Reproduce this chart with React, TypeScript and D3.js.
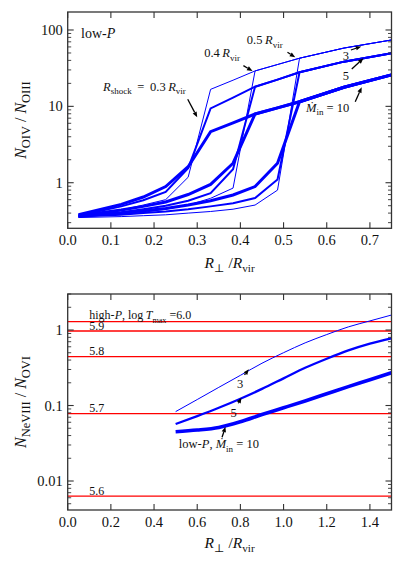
import React from 'react';
import * as d3 from 'd3';

const W = 399;
const H = 574;
const FONT = '"Liberation Serif", "DejaVu Serif", "Times New Roman", serif';

// ---------- Top panel data (N_OIV / N_OIII vs R_perp / R_vir) ----------
const mdotValues = [3, 5, 10];
const shockRadii = [0.3, 0.4, 0.5];
// shared post-shock branch, one per Mdot
const upperX = [0.331, 0.383, 0.434, 0.486, 0.537, 0.64, 0.75];
const upperMdot3 = [16.7, 22.0, 29.1, 35.3, 42.7, 58, 74];
const upperMdot5 = [9.4, 13.0, 18.1, 22.4, 28, 38.5, 49.7];
const upperMdot10 = [4.66, 6.08, 7.94, 9.55, 11.5, 17.8, 25.8];
// pre-shock branch sampled on lowerX
const lowerX = [0.025, 0.124, 0.175, 0.227, 0.279, 0.331, 0.383, 0.434, 0.486];
const lowShock03Mdot3 = [0.36, 0.44, 0.51, 0.6, 1.18];
const lowShock03Mdot5 = [0.37, 0.49, 0.59, 0.76, 1.55];
const lowShock03Mdot10 = [0.38, 0.52, 0.65, 0.89, 1.62];
const lowShock04Mdot3 = [0.355, 0.39, 0.41, 0.45, 0.51, 0.625, 0.85];
const lowShock04Mdot5 = [0.365, 0.41, 0.45, 0.5, 0.58, 0.73, 1.5];
const lowShock04Mdot10 = [0.37, 0.44, 0.49, 0.56, 0.7, 0.95, 1.8];
const lowShock05Mdot3 = [0.35, 0.36, 0.37, 0.38, 0.4, 0.42, 0.45, 0.51, 0.8];
const lowShock05Mdot5 = [0.36, 0.38, 0.4, 0.42, 0.45, 0.49, 0.54, 0.63, 1.1];
const lowShock05Mdot10 = [0.37, 0.4, 0.43, 0.46, 0.51, 0.58, 0.69, 0.89, 1.8];
const topXTicks = [0.0, 0.1, 0.2, 0.3, 0.4, 0.5, 0.6, 0.7];
const topYTicks = [1, 10, 100];
const topYTickLabels = ['1', '10', '100'];

// ---------- Bottom panel data (N_NeVIII / N_OVI vs R_perp / R_vir) ----------
const xBottom = [0.5, 0.6, 0.7, 0.8, 0.9, 1.0, 1.1, 1.2, 1.3, 1.4, 1.5];
const lowPMdot3 = [0.083, 0.12, 0.174, 0.251, 0.363, 0.501, 0.676, 0.871, 1.1, 1.32, 1.58];
const lowPMdot5 = [0.0569, 0.0724, 0.0933, 0.123, 0.166, 0.229, 0.316, 0.417, 0.537, 0.661, 0.776];
const lowPMdot10 = [0.045, 0.0473, 0.0513, 0.061, 0.0759, 0.0933, 0.115, 0.143, 0.178, 0.219, 0.272];
const highPLogT = ['6.0', '5.9', '5.8', '5.7', '5.6'];
const highPRatio = [1.29, 0.97, 0.443, 0.078, 0.0063];
const botXTicks = [0.0, 0.2, 0.4, 0.6, 0.8, 1.0, 1.2, 1.4];
const botYTicks = [0.01, 0.1, 1];
const botYTickLabels = ['0.01', '0.1', '1'];

// ---------- layout ----------
const L = 67.7;
const R = 391.5;
const top1 = 12;
const bot1 = 228.3;
const top2 = 294;
const bot2 = 510;

const xTop = d3.scaleLinear().domain([0, 0.75]).range([L, R]);
const yTop = d3.scaleLog().domain([0.253, 172]).range([bot1, top1]);
const xBot = d3.scaleLinear().domain([0, 1.5]).range([L, R]);
const yBot = d3.scaleLog().domain([0.00413, 3.0]).range([bot2, top2]);

const widthsTop = [1.0, 2.0, 3.0];
const widthsBot = [1.0, 2.3, 3.6];

type Part = { t: string; it?: boolean; sub?: boolean };

function Rich(props: {
  parts: Part[];
  x: number;
  y: number;
  size: number;
  anchor?: string;
  transform?: string;
  subScale?: number;
}) {
  const { parts, x, y, size, anchor, transform } = props;
  const subScale = props.subScale || 0.72;
  let shift = 0;
  const subDy = size * 0.28;
  return (
    <text
      x={x}
      y={y}
      fontSize={size}
      textAnchor={anchor || 'start'}
      transform={transform}
      style={{ fontFamily: FONT }}
      fill="#111"
    >
      {parts.map((p, i) => {
        const target = p.sub ? subDy : 0;
        const dy = target - shift;
        shift = target;
        return (
          <tspan
            key={i}
            dy={dy}
            fontStyle={p.it ? 'italic' : 'normal'}
            fontSize={p.sub ? size * subScale : size}
          >
            {p.t}
          </tspan>
        );
      })}
    </text>
  );
}

function logTicks(domain: [number, number]) {
  const major: number[] = [];
  const minor: number[] = [];
  for (let d = -4; d <= 3; d++) {
    for (let m = 1; m <= 9; m++) {
      const v = m * Math.pow(10, d);
      if (v >= domain[0] && v <= domain[1]) {
        if (m === 1) major.push(v);
        else minor.push(v);
      }
    }
  }
  return { major, minor };
}

function Frame(props: {
  x: d3.ScaleLinear<number, number>;
  y: d3.ScaleLogarithmic<number, number>;
  xTicks: number[];
  t: number;
  b: number;
}) {
  const { x, y, xTicks, t, b } = props;
  const dom = y.domain() as [number, number];
  const { major, minor } = logTicks(dom);
  const c = '#333';
  const els: React.ReactNode[] = [];
  xTicks.forEach((v, i) => {
    const px = x(v);
    els.push(<line key={'xb' + i} x1={px} x2={px} y1={b} y2={b - 6} stroke={c} strokeWidth={1.1} />);
    els.push(<line key={'xt' + i} x1={px} x2={px} y1={t} y2={t + 6} stroke={c} strokeWidth={1.1} />);
  });
  major.forEach((v, i) => {
    const py = y(v);
    els.push(<line key={'yl' + i} x1={L} x2={L + 6} y1={py} y2={py} stroke={c} strokeWidth={1.1} />);
    els.push(<line key={'yr' + i} x1={R} x2={R - 6} y1={py} y2={py} stroke={c} strokeWidth={1.1} />);
  });
  minor.forEach((v, i) => {
    const py = y(v);
    els.push(<line key={'ml' + i} x1={L} x2={L + 3.5} y1={py} y2={py} stroke={c} strokeWidth={0.9} />);
    els.push(<line key={'mr' + i} x1={R} x2={R - 3.5} y1={py} y2={py} stroke={c} strokeWidth={0.9} />);
  });
  els.push(
    <rect key="frame" x={L} y={t} width={R - L} height={b - t} fill="none" stroke={c} strokeWidth={1.3} />
  );
  return <g>{els}</g>;
}

function Arrow(props: { x1: number; y1: number; x2: number; y2: number }) {
  const { x1, y1, x2, y2 } = props;
  const ang = Math.atan2(y2 - y1, x2 - x1);
  const hl = 5.5;
  const hw = 2.2;
  const bx = x2 - hl * Math.cos(ang);
  const by = y2 - hl * Math.sin(ang);
  const px = -Math.sin(ang) * hw;
  const py = Math.cos(ang) * hw;
  return (
    <g>
      <line x1={x1} y1={y1} x2={bx} y2={by} stroke="#000" strokeWidth={1.3} />
      <path d={`M${x2},${y2}L${bx + px},${by + py}L${bx - px},${by - py}Z`} fill="#000" />
    </g>
  );
}

export default function App() {
  const lineTop = d3
    .line<[number, number]>()
    .x((d) => xTop(d[0]))
    .y((d) => yTop(d[1]));
  const lineBot = d3
    .line<[number, number]>()
    .x((d) => xBot(d[0]))
    .y((d) => yBot(d[1]))
    .curve(d3.curveMonotoneX);

  const uppers = [upperMdot3, upperMdot5, upperMdot10];
  const lowers = [
    [lowShock03Mdot3, lowShock03Mdot5, lowShock03Mdot10],
    [lowShock04Mdot3, lowShock04Mdot5, lowShock04Mdot10],
    [lowShock05Mdot3, lowShock05Mdot5, lowShock05Mdot10],
  ];
  const jumpX = [0.331, 0.434, 0.537];

  const topCurves: { d: string; w: number }[] = [];
  shockRadii.forEach((rs, si) => {
    mdotValues.forEach((md, mi) => {
      const low = lowers[si][mi];
      const pts: [number, number][] = low.map((v, i) => [lowerX[i], v]);
      upperX.forEach((ux, j) => {
        if (ux >= jumpX[si] - 1e-6) pts.push([ux, uppers[mi][j]]);
      });
      topCurves.push({ d: lineTop(pts) || '', w: widthsTop[mi] });
    });
  });

  const botSeries = [lowPMdot3, lowPMdot5, lowPMdot10];

  const ann = 12;
  const tick = 14.5;

  return (
    <svg width={W} height={H} style={{ display: 'block', position: 'absolute', left: 0, top: 0 }}>
      <rect width={W} height={H} fill="#fff" />
      {/* ---------- top panel ---------- */}
      <g>
        {topCurves.map((c, i) => (
          <path key={i} d={c.d} fill="none" stroke="#0000ff" strokeWidth={c.w} strokeLinejoin="miter" />
        ))}
      </g>
      <Frame x={xTop} y={yTop} xTicks={topXTicks} t={top1} b={bot1} />
      {topXTicks.map((v, i) => (
        <text key={i} x={xTop(v)} y={bot1 + 17} fontSize={tick} textAnchor="middle" style={{ fontFamily: FONT }} fill="#111">
          {v.toFixed(1)}
        </text>
      ))}
      {topYTicks.map((v, i) => (
        <text key={i} x={L - 5} y={yTop(v) + 5} fontSize={tick} textAnchor="end" style={{ fontFamily: FONT }} fill="#111">
          {topYTickLabels[i]}
        </text>
      ))}
      <Rich parts={[{ t: 'low-' }, { t: 'P', it: true }]} x={xTop(0.031)} y={yTop(78.6)} size={14} />
      <Rich
        parts={[
          { t: 'R', it: true },
          { t: 'shock', sub: true },
          { t: '\u2009 = \u20090.3\u2009' },
          { t: 'R', it: true },
          { t: 'vir', sub: true },
        ]}
        x={xTop(0.082)}
        y={yTop(16)}
        size={12.5}
      />
      <Arrow x1={xTop(0.278)} y1={yTop(12.4)} x2={xTop(0.3)} y2={yTop(7.19)} />
      <Rich parts={[{ t: '0.4\u2009' }, { t: 'R', it: true }, { t: 'vir', sub: true }]} x={xTop(0.316)} y={yTop(43.9)} size={12.5} />
      <Arrow x1={xTop(0.407)} y1={yTop(34.1)} x2={xTop(0.428)} y2={yTop(29.0)} />
      <Rich parts={[{ t: '0.5\u2009' }, { t: 'R', it: true }, { t: 'vir', sub: true }]} x={xTop(0.415)} y={yTop(65)} size={12.5} />
      <Arrow x1={xTop(0.509)} y1={yTop(51)} x2={xTop(0.527)} y2={yTop(43.9)} />
      <Rich parts={[{ t: '3' }]} x={xTop(0.637)} y={yTop(40.5)} size={12.5} />
      <Arrow x1={xTop(0.656)} y1={yTop(54.7)} x2={xTop(0.68)} y2={yTop(60.8)} />
      <Rich parts={[{ t: '5' }]} x={xTop(0.637)} y={yTop(22.1)} size={12.5} />
      <Arrow x1={xTop(0.658)} y1={yTop(30.8)} x2={xTop(0.685)} y2={yTop(42.6)} />
      <Rich
        parts={[{ t: 'Ṁ', it: true }, { t: 'in', sub: true }, { t: ' = 10' }]}
        x={xTop(0.552)}
        y={yTop(8.51)}
        size={12.5}
      />
      <Arrow x1={xTop(0.666)} y1={yTop(11.5)} x2={xTop(0.681)} y2={yTop(17.8)} />
      <Rich
        parts={[
          { t: 'R', it: true },
          { t: '⊥', sub: true },
          { t: ' /' },
          { t: 'R', it: true },
          { t: 'vir', sub: true },
        ]}
        x={(L + R) / 2}
        y={267.5}
        size={15.5}
        anchor="middle"
      />
      <Rich
        parts={[
          { t: 'N', it: true },
          { t: 'OIV', sub: true },
          { t: ' / ' },
          { t: 'N', it: true },
          { t: 'OIII', sub: true },
        ]}
        x={0}
        y={0}
        size={16}
        subScale={0.78}
        anchor="middle"
        transform={`translate(26,${(top1 + bot1) / 2}) rotate(-90)`}
      />

      {/* ---------- bottom panel ---------- */}
      <g>
        {highPRatio.map((v, i) => (
          <line key={i} x1={L} x2={R} y1={yBot(v)} y2={yBot(v)} stroke="#ff0000" strokeWidth={1.3} />
        ))}
      </g>
      <g>
        {botSeries.map((s, i) => (
          <path
            key={i}
            d={lineBot(s.map((v, j) => [xBottom[j], v] as [number, number])) || ''}
            fill="none"
            stroke="#0000ff"
            strokeWidth={widthsBot[i]}
          />
        ))}
      </g>
      <Frame x={xBot} y={yBot} xTicks={botXTicks} t={top2} b={bot2} />
      {botXTicks.map((v, i) => (
        <text key={i} x={xBot(v)} y={bot2 + 17} fontSize={tick} textAnchor="middle" style={{ fontFamily: FONT }} fill="#111">
          {v.toFixed(1)}
        </text>
      ))}
      {botYTicks.map((v, i) => (
        <text key={i} x={L - 5} y={yBot(v) + 5} fontSize={tick} textAnchor="end" style={{ fontFamily: FONT }} fill="#111">
          {botYTickLabels[i]}
        </text>
      ))}
      {highPRatio.map((v, i) =>
        i === 0 ? (
          <Rich
            key={i}
            parts={[
              { t: 'high-' },
              { t: 'P', it: true },
              { t: ', log\u2009' },
              { t: 'T', it: true },
              { t: 'max', sub: true },
              { t: ' =' + highPLogT[i] },
            ]}
            x={xBot(0.1)}
            y={yBot(v) - 2.5}
            size={12}
            subScale={0.68}
          />
        ) : (
          <Rich key={i} parts={[{ t: highPLogT[i] }]} x={xBot(0.1)} y={yBot(v) - 1.5} size={12} />
        )
      )}
      <Rich parts={[{ t: '3' }]} x={xBot(0.784)} y={yBot(0.171)} size={12.5} />
      <Arrow x1={xBot(0.819)} y1={yBot(0.254)} x2={xBot(0.839)} y2={yBot(0.302)} />
      <Rich parts={[{ t: '5' }]} x={xBot(0.754)} y={yBot(0.0711)} size={12.5} />
      <Arrow x1={xBot(0.79)} y1={yBot(0.107)} x2={xBot(0.805)} y2={yBot(0.127)} />
      <Rich
        parts={[
          { t: 'low-' },
          { t: 'P', it: true },
          { t: ', ' },
          { t: 'Ṁ', it: true },
          { t: 'in', sub: true },
          { t: ' = 10' },
        ]}
        x={xBot(0.515)}
        y={yBot(0.0271)}
        size={12.5}
      />
      <Arrow x1={xBot(0.715)} y1={yBot(0.0379)} x2={xBot(0.731)} y2={yBot(0.0524)} />
      <Rich
        parts={[
          { t: 'R', it: true },
          { t: '⊥', sub: true },
          { t: ' /' },
          { t: 'R', it: true },
          { t: 'vir', sub: true },
        ]}
        x={(L + R) / 2}
        y={547.5}
        size={15.5}
        anchor="middle"
      />
      <Rich
        parts={[
          { t: 'N', it: true },
          { t: 'NeVIII', sub: true },
          { t: ' / ' },
          { t: 'N', it: true },
          { t: 'OVI', sub: true },
        ]}
        x={0}
        y={0}
        size={16}
        subScale={0.78}
        anchor="middle"
        transform={`translate(26,${(top2 + bot2) / 2}) rotate(-90)`}
      />
    </svg>
  );
}
